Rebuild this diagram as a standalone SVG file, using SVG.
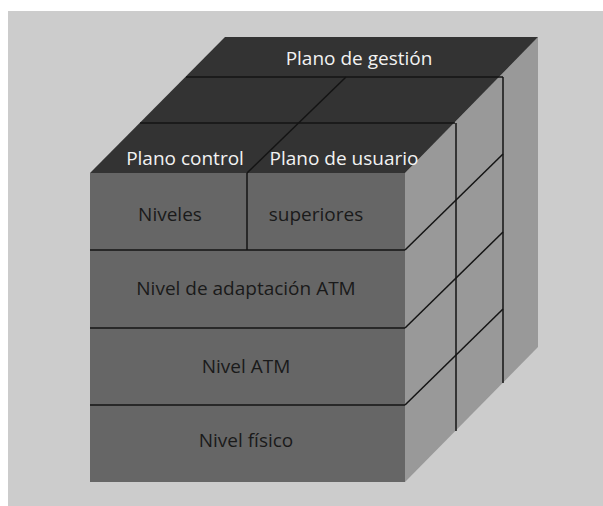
<svg xmlns="http://www.w3.org/2000/svg" width="603" height="506" viewBox="0 0 603 506">
<style>
.top{fill:#333333}
.front{fill:#666666}
.side{fill:#999999}
.ln{stroke:#141414;stroke-width:1.5;fill:none}
.tw{font-family:"Open Sans","Noto Sans",sans-serif;font-size:19px;fill:#f2f2f2}
.tb{font-family:"Open Sans","Noto Sans",sans-serif;font-size:19px;fill:#1a1a1a}
</style>
<rect x="0" y="0" width="603" height="506" fill="#ffffff"/>
<rect x="8" y="11" width="595" height="495" fill="#cccccc"/>
<g id="cube-faces">
<polygon class="side" points="405,173 538,37 538,347 405,482"/>
<polygon class="top" points="90,173 225,37 538,37 405,173"/>
<rect class="front" x="90" y="173" width="315" height="309"/>
</g>
<g id="connectors">
<line class="ln" x1="186" y1="77" x2="503" y2="77"/>
<line class="ln" x1="140" y1="123" x2="455" y2="123"/>
<line class="ln" x1="247" y1="173" x2="346" y2="77"/>
<line class="ln" x1="247" y1="173" x2="247" y2="250"/>
<line class="ln" x1="90" y1="250" x2="405" y2="250"/>
<line class="ln" x1="90" y1="328" x2="405" y2="328"/>
<line class="ln" x1="90" y1="405" x2="405" y2="405"/>
<line class="ln" x1="456" y1="123" x2="456" y2="431"/>
<line class="ln" x1="503" y1="77" x2="503" y2="383"/>
<line class="ln" x1="405" y1="250" x2="503" y2="154"/>
<line class="ln" x1="405" y1="328" x2="503" y2="232"/>
<line class="ln" x1="405" y1="405" x2="503" y2="309"/>
</g>
<g id="plano-gestion"><text class="tw" x="359" y="65" text-anchor="middle">Plano de gestión</text></g>
<g id="plano-control"><text class="tw" x="185" y="165" text-anchor="middle">Plano control</text></g>
<g id="plano-usuario"><text class="tw" x="344" y="165" text-anchor="middle">Plano de usuario</text></g>
<g id="niveles"><text class="tb" x="170" y="221" text-anchor="middle">Niveles</text></g>
<g id="superiores"><text class="tb" x="316" y="221" text-anchor="middle">superiores</text></g>
<g id="nivel-aal"><text class="tb" x="246" y="295" text-anchor="middle">Nivel de adaptación ATM</text></g>
<g id="nivel-atm"><text class="tb" x="246" y="373" text-anchor="middle">Nivel ATM</text></g>
<g id="nivel-fisico"><text class="tb" x="246" y="447" text-anchor="middle">Nivel físico</text></g>
</svg>
